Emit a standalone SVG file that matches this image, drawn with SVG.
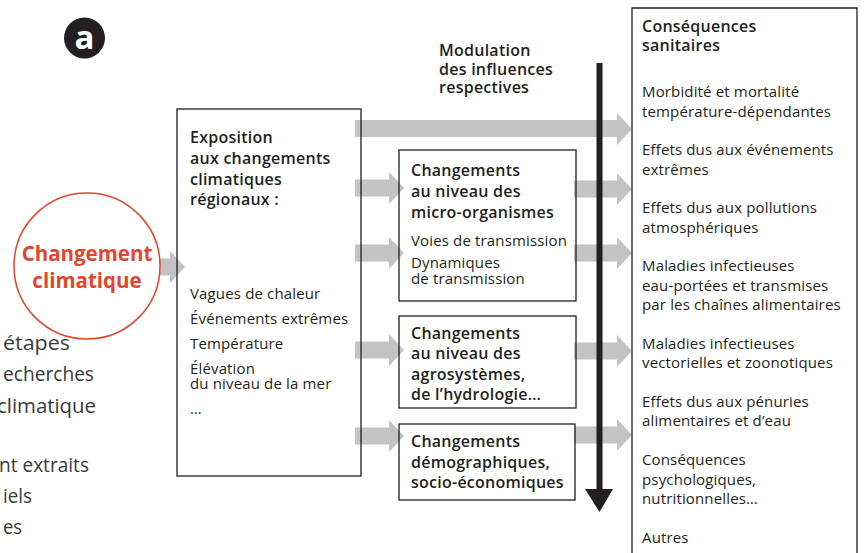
<svg xmlns="http://www.w3.org/2000/svg" width="865" height="553" viewBox="0 0 865 553">
<style>
text{font-family:"Open Sans","Liberation Sans",sans-serif;fill:#231f20}
.b{font-weight:600;font-size:16px;letter-spacing:0.25px}
.n{font-size:15px;letter-spacing:0.15px}
.bg{font-size:20px;fill:#3a3a3a}
.box{fill:none;stroke:#231f20;stroke-width:1.3}
.ga{fill:#c3c3c3}
</style>
<rect width="865" height="553" fill="#fff"/>
<g id="background-text" text-anchor="end">
<text class="bg" x="70" y="350" textLength="67" lengthAdjust="spacingAndGlyphs">étapes</text>
<text class="bg" x="94" y="381" textLength="91" lengthAdjust="spacingAndGlyphs">echerches</text>
<text class="bg" x="96" y="413" textLength="99" lengthAdjust="spacingAndGlyphs">climatique</text>
<text class="bg" x="89" y="472" textLength="90" lengthAdjust="spacingAndGlyphs">nt extraits</text>
<text class="bg" x="32" y="503" textLength="29" lengthAdjust="spacingAndGlyphs">iels</text>
<text class="bg" x="22" y="534" textLength="19" lengthAdjust="spacingAndGlyphs">es</text>
</g>
<g id="badge">
<circle cx="84.5" cy="38" r="20.5" fill="#231f20"/>
<text x="84.5" y="49" text-anchor="middle" style="font-weight:700;font-size:33px;fill:#fff">a</text>
</g>
<g id="connectors">
<polygon class="ga" points="158,258.5 170,258.5 170,251 185,267 170,283 170,275.5 158,275.5"/>
<polygon class="ga" points="355,120 617,120 617,113 632,129 617,145 617,137 355,137"/>
<polygon class="ga" points="355,179.5 389,179.5 389,172 404,188 389,204 389,196.5 355,196.5"/>
<polygon class="ga" points="355,244.5 389,244.5 389,237 404,253 389,269 389,261.5 355,261.5"/>
<polygon class="ga" points="355,341.5 389,341.5 389,334 404,350 389,366 389,358.5 355,358.5"/>
<polygon class="ga" points="355,427.5 389,427.5 389,420 404,436 389,452 389,444.5 355,444.5"/>
<polygon class="ga" points="574,180.5 617,180.5 617,173 632,189 617,205 617,197.5 574,197.5"/>
<polygon class="ga" points="574,244.5 617,244.5 617,237 632,253 617,269 617,261.5 574,261.5"/>
<polygon class="ga" points="574,342.5 617,342.5 617,335 632,351 617,367 617,359.5 574,359.5"/>
<polygon class="ga" points="574,426.5 617,426.5 617,419 632,435 617,451 617,443.5 574,443.5"/>
<line x1="599.5" y1="63" x2="599.5" y2="490" stroke="#231f20" stroke-width="6"/>
<polygon points="585,489 613,489 599.5,512" fill="#231f20"/>
</g>
<g id="climate-change">
<circle cx="87" cy="266" r="73" fill="#fff" stroke="#e2452b" stroke-width="1.5"/>
<text x="87" y="261" text-anchor="middle" style="font-weight:700;font-size:20.5px;fill:#e2452b">Changement</text>
<text x="87" y="288" text-anchor="middle" style="font-weight:700;font-size:20.5px;fill:#e2452b">climatique</text>
</g>
<g id="exposition">
<rect class="box" x="177" y="109" width="184" height="367"/>
<text class="b" x="190" y="143">Exposition</text>
<text class="b" x="190" y="164">aux changements</text>
<text class="b" x="190" y="185">climatiques</text>
<text class="b" x="190" y="205">régionaux :</text>
<text class="n" x="190" y="299">Vagues de chaleur</text>
<text class="n" x="190" y="324">Événements extrêmes</text>
<text class="n" x="190" y="349">Température</text>
<text class="n" x="190" y="374">Élévation</text>
<text class="n" x="190" y="389">du niveau de la mer</text>
<text class="n" x="190" y="414">…</text>
</g>
<g id="modulation">
<text class="b" x="439" y="56">Modulation</text>
<text class="b" x="439" y="75">des influences</text>
<text class="b" x="439" y="93">respectives</text>
</g>
<g id="micro-organismes">
<rect class="box" x="399" y="150" width="177" height="151"/>
<text class="b" x="411" y="176">Changements</text>
<text class="b" x="411" y="197">au niveau des</text>
<text class="b" x="411" y="218">micro-organismes</text>
<text class="n" x="411" y="246">Voies de transmission</text>
<text class="n" x="411" y="268">Dynamiques</text>
<text class="n" x="411" y="284">de transmission</text>
</g>
<g id="agrosystemes">
<rect class="box" x="399" y="316" width="177" height="92"/>
<text class="b" x="411" y="339">Changements</text>
<text class="b" x="411" y="359">au niveau des</text>
<text class="b" x="411" y="380">agrosystèmes,</text>
<text class="b" x="411" y="400">de l’hydrologie…</text>
</g>
<g id="demographiques">
<rect class="box" x="399" y="424" width="176" height="76"/>
<text class="b" x="411" y="447">Changements</text>
<text class="b" x="411" y="468">démographiques,</text>
<text class="b" x="411" y="488">socio-économiques</text>
</g>
<g id="consequences">
<path class="box" d="M632,560 V8 H857 V560"/>
<text class="b" x="642" y="32">Conséquences</text>
<text class="b" x="642" y="51">sanitaires</text>
<text class="n" x="642" y="97">Morbidité et mortalité</text>
<text class="n" x="642" y="117">température-dépendantes</text>
<text class="n" x="642" y="155">Effets dus aux événements</text>
<text class="n" x="642" y="175">extrêmes</text>
<text class="n" x="642" y="213">Effets dus aux pollutions</text>
<text class="n" x="642" y="233">atmosphériques</text>
<text class="n" x="642" y="271">Maladies infectieuses</text>
<text class="n" x="642" y="291">eau-portées et transmises</text>
<text class="n" x="642" y="310">par les chaînes alimentaires</text>
<text class="n" x="642" y="349">Maladies infectieuses</text>
<text class="n" x="642" y="368">vectorielles et zoonotiques</text>
<text class="n" x="642" y="407">Effets dus aux pénuries</text>
<text class="n" x="642" y="426">alimentaires et d’eau</text>
<text class="n" x="642" y="465">Conséquences</text>
<text class="n" x="642" y="485">psychologiques,</text>
<text class="n" x="642" y="504">nutritionnelles…</text>
<text class="n" x="642" y="543">Autres</text>
</g>
</svg>
